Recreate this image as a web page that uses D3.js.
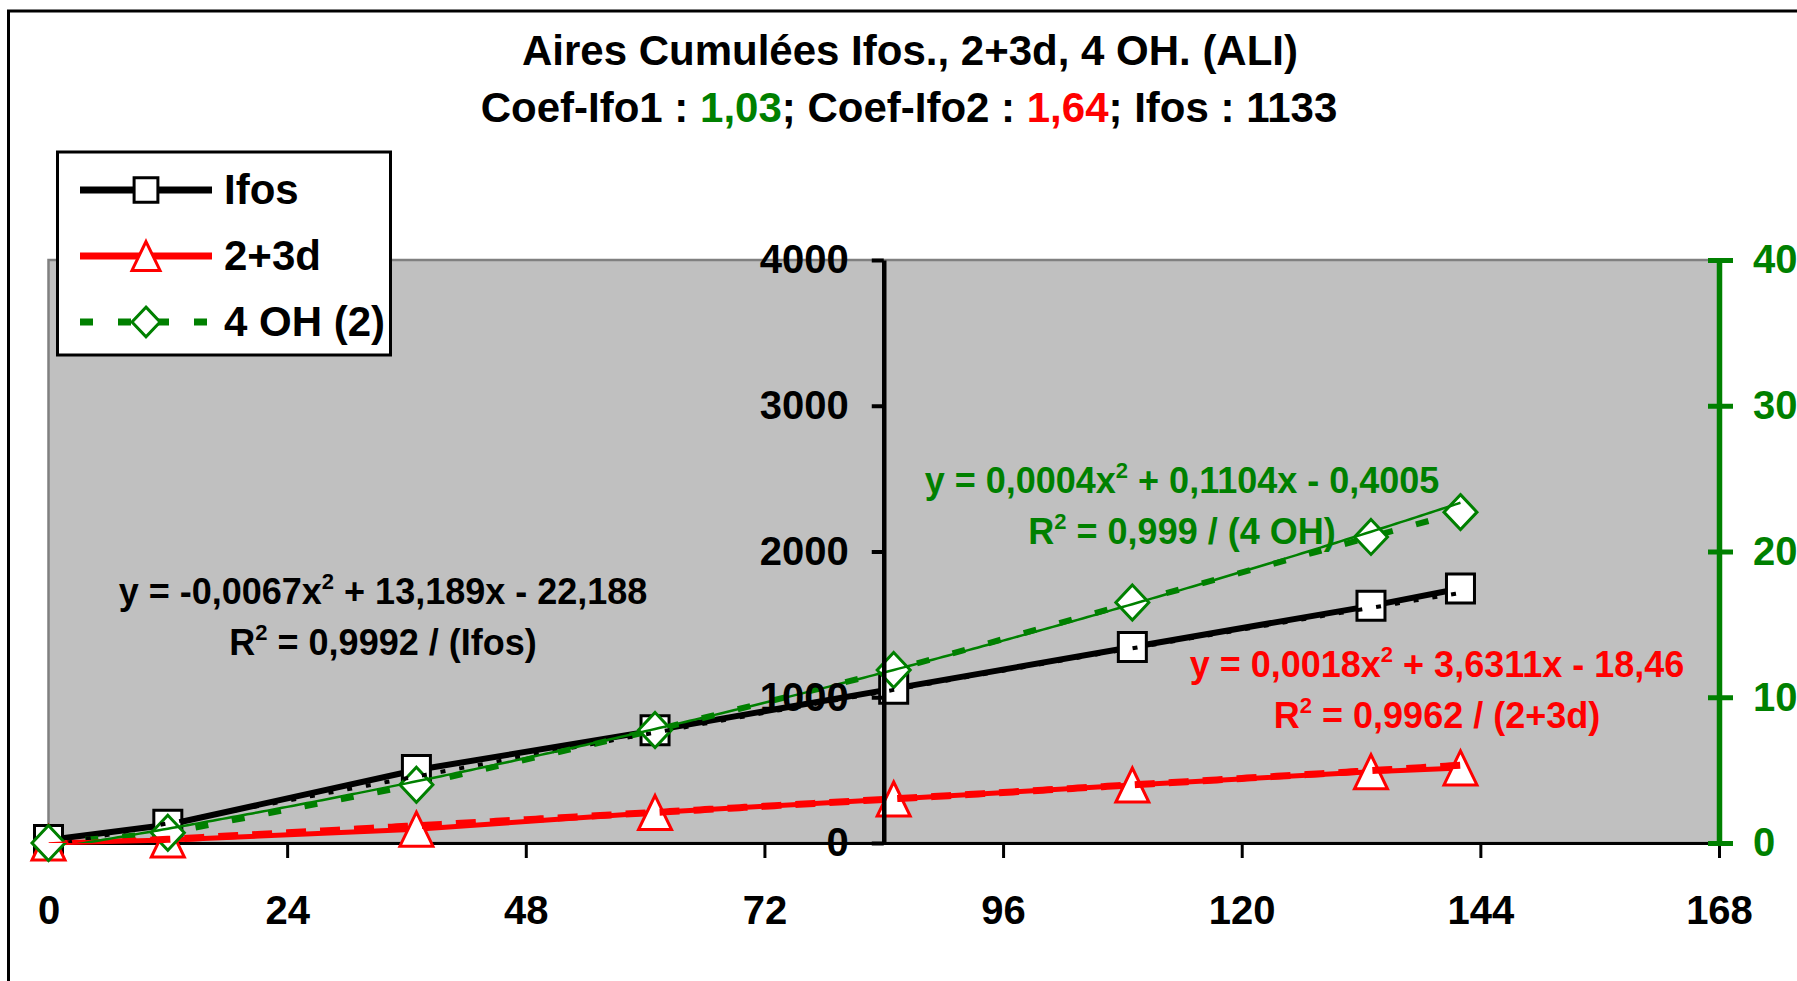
<!DOCTYPE html>
<html>
<head>
<meta charset="utf-8">
<script src="https://cdn.jsdelivr.net/npm/d3@7"></script>
<style>
  body { margin: 0; background: #fff; }
  svg text { font-family: "Liberation Sans", Arial, sans-serif; font-weight: bold; }
</style>
</head>
<body>
<div id="chart-container"></div>
<script>
// data
const hours = [0, 12, 37, 61, 85, 109, 133, 142];
const ifos = [20, 125, 501, 773, 1059, 1345, 1627, 1746];
const d23 = [0, 20, 95, 209, 302, 398, 489, 515];
const oh4 = [0, 0.7, 4.0, 7.75, 11.87, 16.5, 21.0, 22.7];

// polynomial trendlines (a x^2 + b x + c) as printed on the chart
const trendIfos = [-0.0067, 13.189, -22.188];
const trend23 = [0.0018, 3.6311, -18.46];
const trendOH = [0.0004, 0.1104, -0.4005];

const xTicks = [0, 24, 48, 72, 96, 120, 144, 168];
const yLeftTicks = [0, 1000, 2000, 3000, 4000];
const yRightTicks = [0, 10, 20, 30, 40];

chart = {
  "width": 1797, "height": 981,
  "plot": { "left": 48.5, "right": 1719, "top": 260, "bottom": 843 },
  "scale": {
    "x": d3.scaleLinear(),
    "yLeft": d3.scaleLinear(),
    "yRight": d3.scaleLinear()
  }
}

function drawChart(){
  let p = chart.plot;
  chart.scale.x.domain([0, 168]).range([p.left, p.right]);
  chart.scale.yLeft.domain([0, 4000]).range([p.bottom, p.top]);
  chart.scale.yRight.domain([0, 40]).range([p.bottom, p.top]);
  let x = chart.scale.x, yL = chart.scale.yLeft, yR = chart.scale.yRight;

  let svg = d3.select("#chart-container").append("svg")
    .attr("width", chart.width).attr("height", chart.height);

  svg.append("defs").append("clipPath").attr("id", "plot-clip")
    .append("rect").attr("x", p.left).attr("y", p.top)
    .attr("width", p.right - p.left).attr("height", p.bottom - p.top);

  // outer chart border (runs off the right and bottom edge)
  svg.append("rect").attr("x", 8.5).attr("y", 11).attr("width", 1900).attr("height", 1100)
    .attr("fill", "none").attr("stroke", "#000").attr("stroke-width", 3);

  // plot area
  svg.append("rect").attr("x", p.left).attr("y", p.top)
    .attr("width", p.right - p.left).attr("height", p.bottom - p.top)
    .attr("fill", "#C0C0C0").attr("stroke", "#808080").attr("stroke-width", 2.5);

  // titles
  svg.append("text").attr("x", 910).attr("y", 65).attr("text-anchor", "middle")
    .style("font-size", "42px").text("Aires Cumulées Ifos., 2+3d, 4 OH. (ALI)");
  let sub = svg.append("text").attr("x", 909).attr("y", 122).attr("text-anchor", "middle")
    .style("font-size", "42px");
  [["Coef-Ifo1 : ", "#000"], ["1,03", "#008000"], ["; Coef-Ifo2 : ", "#000"], ["1,64", "#FF0000"], ["; Ifos : 1133", "#000"]]
    .forEach(d => sub.append("tspan").attr("fill", d[1]).text(d[0]));

  // x axis
  let xAxis = svg.append("g").attr("transform", "translate(0," + p.bottom + ")")
    .call(d3.axisBottom(x).tickValues(xTicks).tickSize(15).tickSizeOuter(0).tickPadding(38));
  xAxis.select(".domain").attr("stroke-width", 3);
  xAxis.selectAll(".tick line").attr("stroke-width", 3);
  xAxis.selectAll("text").style("font-size", "40px").attr("fill", "#000");

  // series: lines then markers, 4 OH on the secondary axis
  let series = [
    { "name": "Ifos", "values": ifos, "y": yL, "color": "#000", "width": 6, "dash": null, "marker": "square" },
    { "name": "2+3d", "values": d23, "y": yL, "color": "#FF0000", "width": 5, "dash": null, "marker": "triangle" },
    { "name": "4 OH (2)", "values": oh4, "y": yR, "color": "#008000", "width": 6, "dash": "13,24", "marker": "diamond" }
  ];
  let trends = [
    { "coef": trendIfos, "y": yL, "color": "#000", "width": 4, "dash": "5,14" },
    { "coef": trend23, "y": yL, "color": "#FF0000", "width": 7, "dash": "20,14" },
    { "coef": trendOH, "y": yR, "color": "#008000", "width": 2.5, "dash": null }
  ];

  let seriesG = svg.append("g").attr("id", "series");
  series.forEach(function(s){
    let pts = hours.map((h, i) => [h, s.values[i]]);
    seriesG.append("path")
      .attr("d", d3.line().x(d => x(d[0])).y(d => s.y(d[1]))(pts))
      .attr("fill", "none").attr("stroke", s.color).attr("stroke-width", s.width)
      .attr("stroke-dasharray", s.dash).attr("stroke-linejoin", "round");
    seriesG.selectAll(".marker-" + s.marker).data(pts).enter()
      .append("path")
      .attr("class", "marker-" + s.marker)
      .attr("transform", d => "translate(" + x(d[0]) + "," + s.y(d[1]) + ")")
      .attr("d", markerPath(s.marker, 1))
      .attr("fill", "#fff").attr("stroke", s.color).attr("stroke-width", 3);
  });

  // trendlines drawn over the markers, clipped to the plot area
  let trendG = svg.append("g").attr("id", "trendlines").attr("clip-path", "url(#plot-clip)");
  trends.forEach(function(t){
    let pts = d3.range(0, 142.5, 0.5).map(h => [h, t.coef[0] * h * h + t.coef[1] * h + t.coef[2]]);
    trendG.append("path")
      .attr("d", d3.line().x(d => x(d[0])).y(d => t.y(d[1]))(pts))
      .attr("fill", "none").attr("stroke", t.color).attr("stroke-width", t.width)
      .attr("stroke-dasharray", t.dash);
  });

  // primary y axis crosses at 84 h
  let yAxisL = svg.append("g").attr("transform", "translate(" + x(84) + ",0)")
    .call(d3.axisLeft(yL).tickValues(yLeftTicks).tickFormat(d3.format("d"))
      .tickSize(12).tickSizeOuter(0).tickPadding(23));
  yAxisL.select(".domain").attr("stroke-width", 4.5);
  yAxisL.selectAll(".tick line").attr("stroke-width", 4);
  yAxisL.selectAll("text").style("font-size", "40px").attr("fill", "#000");

  // secondary y axis, ticks cross the line
  let yAxisR = svg.append("g").attr("transform", "translate(" + p.right + ",0)")
    .call(d3.axisRight(yR).tickValues(yRightTicks).tickFormat(d3.format("d"))
      .tickSize(14).tickSizeOuter(0).tickPadding(20));
  yAxisR.select(".domain").attr("stroke", "#008000").attr("stroke-width", 5.5);
  yAxisR.selectAll(".tick line").attr("x1", -11).attr("stroke", "#008000").attr("stroke-width", 5);
  yAxisR.selectAll("text").style("font-size", "40px").attr("fill", "#008000");

  drawEquations(svg);
  drawLegend(svg, series);
}

function markerPath(type, k){
  if(type == "square"){
    let w = 28 * k, h = 29 * k;
    return "M" + (-w / 2) + "," + (-h / 2) + "h" + w + "v" + h + "h" + (-w) + "Z";
  }
  if(type == "triangle"){
    let w = 33 * k, h = 34 * k;
    return "M0," + (-h / 2) + "L" + (w / 2) + "," + (h / 2) + "L" + (-w / 2) + "," + (h / 2) + "Z";
  }
  let w = 33 * k, h = 35 * k;
  return "M0," + (-h / 2) + "L" + (w / 2) + ",0L0," + (h / 2) + "L" + (-w / 2) + ",0Z";
}

function drawEquations(svg){
  let eqs = [
    { "x": 383, "y": 604, "color": "#000", "a": "y = -0,0067x", "b": " + 13,189x - 22,188", "r": " = 0,9992 / (Ifos)" },
    { "x": 1182, "y": 493, "color": "#008000", "a": "y = 0,0004x", "b": " + 0,1104x - 0,4005", "r": " = 0,999 / (4 OH)" },
    { "x": 1437, "y": 677, "color": "#FF0000", "a": "y = 0,0018x", "b": " + 3,6311x - 18,46", "r": " = 0,9962 / (2+3d)" }
  ];
  let g = svg.append("g").attr("id", "equations");
  eqs.forEach(function(e){
    let t1 = g.append("text").attr("x", e.x).attr("y", e.y).attr("text-anchor", "middle")
      .attr("fill", e.color).style("font-size", "36px");
    t1.append("tspan").text(e.a);
    t1.append("tspan").attr("dy", -15).style("font-size", "22px").text("2");
    t1.append("tspan").attr("dy", 15).text(e.b);
    let t2 = g.append("text").attr("x", e.x).attr("y", e.y + 51).attr("text-anchor", "middle")
      .attr("fill", e.color).style("font-size", "36px");
    t2.append("tspan").text("R");
    t2.append("tspan").attr("dy", -15).style("font-size", "22px").text("2");
    t2.append("tspan").attr("dy", 15).text(e.r);
  });
}

function drawLegend(svg, series){
  let lg = svg.append("g").attr("id", "legend");
  lg.append("rect").attr("x", 57.5).attr("y", 152).attr("width", 333).attr("height", 203)
    .attr("fill", "#fff").attr("stroke", "#000").attr("stroke-width", 3);
  let rowY = d3.scalePoint().domain(series.map(s => s.name)).range([190, 322]);
  series.forEach(function(s){
    let row = lg.append("g").attr("transform", "translate(0," + rowY(s.name) + ")");
    row.append("line").attr("x1", 80).attr("x2", 212)
      .attr("stroke", s.color).attr("stroke-width", 7)
      .attr("stroke-dasharray", s.dash ? "13,25" : null);
    row.append("path").attr("transform", "translate(146,0)")
      .attr("d", markerPath(s.marker, 0.85))
      .attr("fill", "#fff").attr("stroke", s.color).attr("stroke-width", 3);
    row.append("text").attr("x", 224).attr("y", 14).style("font-size", "42px").text(s.name);
  });
}

drawChart();
</script>
</body>
</html>
